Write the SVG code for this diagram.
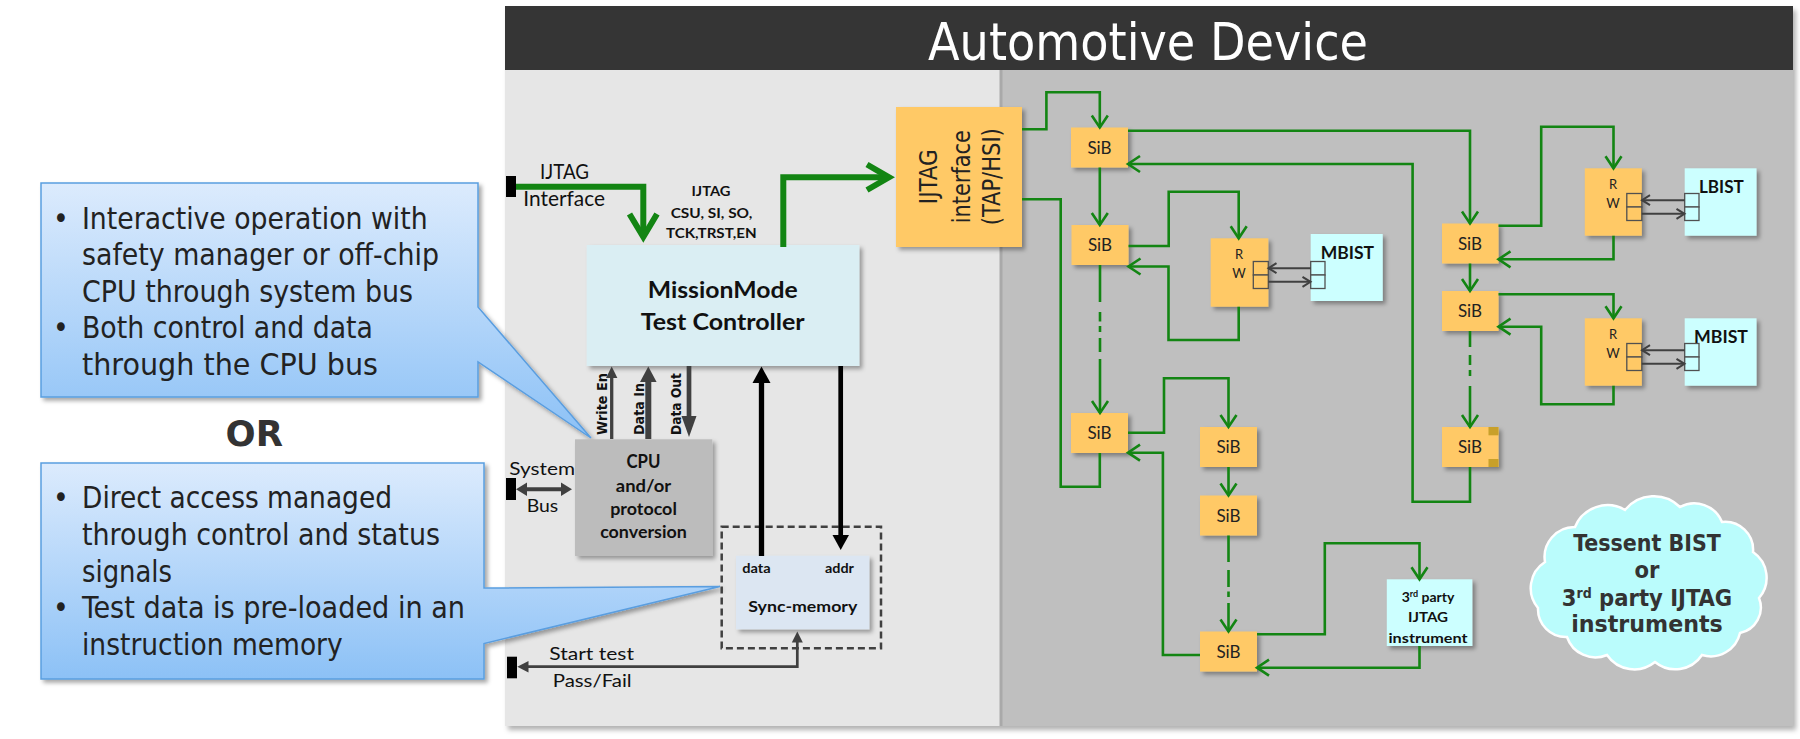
<svg xmlns="http://www.w3.org/2000/svg" width="1800" height="739" viewBox="0 0 1800 739">
<defs>
<style>
.t{font-family:'DejaVu Sans Condensed','DejaVu Sans',sans-serif;font-stretch:condensed}
.c{font-family:Lato,'Liberation Sans',sans-serif}
.b{font-weight:bold}
.g{stroke:#138513;stroke-width:2.6;fill:none}
.ga{marker-end:url(#ga)}
.k{stroke:#404040;stroke-width:2;fill:none;marker-end:url(#ka)}
.sib{fill:#ffc966;filter:url(#sh)}
.inst{fill:#ccffff;filter:url(#sh)}
.reg{stroke:#505050;stroke-width:1.3}
.sibt{font-family:Lato,'Liberation Sans',sans-serif;font-size:17px;fill:#222;text-anchor:middle}
.rw{font-family:Lato,'Liberation Sans',sans-serif;font-size:13px;fill:#222;text-anchor:middle}
.ct{font-family:'DejaVu Sans Condensed','DejaVu Sans',sans-serif;font-stretch:condensed;font-size:29.7px;fill:#222}
</style>
<filter id="sh" x="-15%" y="-15%" width="140%" height="140%">
<feDropShadow dx="3" dy="3" stdDeviation="2" flood-color="#000" flood-opacity="0.35"/>
</filter>
<filter id="sh2" x="-5%" y="-5%" width="110%" height="110%">
<feDropShadow dx="3" dy="4" stdDeviation="2.5" flood-color="#000" flood-opacity="0.3"/>
</filter>
<linearGradient id="cg" x1="0" y1="0" x2="0" y2="1">
<stop offset="0" stop-color="#dcebfd"/>
<stop offset="1" stop-color="#8cc1f6"/>
</linearGradient>
<marker id="ga" markerWidth="16" markerHeight="18" viewBox="0 0 16 18" refX="13" refY="9" orient="auto" markerUnits="userSpaceOnUse" style="overflow:visible">
<path d="M1,1 L13,9 L1,17" fill="none" stroke="#138513" stroke-width="2.6"/>
</marker>
<marker id="ka" markerWidth="10" markerHeight="12" viewBox="0 0 10 12" refX="9" refY="6" orient="auto" markerUnits="userSpaceOnUse" style="overflow:visible">
<path d="M1,1 L9,6 L1,11" fill="none" stroke="#404040" stroke-width="2"/>
</marker>
</defs>

<rect width="1800" height="739" fill="#ffffff"/>

<!-- device panels -->
<g id="device" filter="url(#sh2)">
<rect x="505" y="70" width="495" height="656" fill="#e6e6e6"/>
<rect x="1000" y="70" width="793" height="656" fill="#bfbfbf"/>
<rect x="505" y="6" width="1288" height="64" fill="#363636"/>
</g>
<line x1="1001" y1="70" x2="1001" y2="726" stroke="#a9a9a9" stroke-width="3"/>
<text class="t" x="1148" y="60" font-size="52" fill="#ffffff" text-anchor="middle" textLength="440" lengthAdjust="spacingAndGlyphs">Automotive Device</text>

<!-- callouts -->
<g id="callout1">
<path d="M41,183 H478 V307 L591,438 L478,362 V397 H41 Z" fill="url(#cg)" stroke="#5a9ee0" stroke-width="1.5" filter="url(#sh)"/>
<text class="ct" x="53" y="228.5">•</text>
<text class="ct" x="82" y="228.5" textLength="345.6" lengthAdjust="spacingAndGlyphs">Interactive operation with</text>
<text class="ct" x="82" y="265" textLength="357" lengthAdjust="spacingAndGlyphs">safety manager or off-chip</text>
<text class="ct" x="82" y="301.5" textLength="331" lengthAdjust="spacingAndGlyphs">CPU through system bus</text>
<text class="ct" x="53" y="338">•</text>
<text class="ct" x="82" y="338" textLength="291" lengthAdjust="spacingAndGlyphs">Both control and data</text>
<text class="ct" x="82" y="374.5" textLength="296" lengthAdjust="spacingAndGlyphs">through the CPU bus</text>
</g>
<text class="t b" x="254.3" y="446" font-size="36" fill="#333" text-anchor="middle" textLength="57.4" lengthAdjust="spacingAndGlyphs">OR</text>
<g id="callout2">
<path d="M41,463 H484 V588 L720,586.5 L484,643.5 V679 H41 Z" fill="url(#cg)" stroke="#5a9ee0" stroke-width="1.5" filter="url(#sh)"/>
<text class="ct" x="53" y="508.3">•</text>
<text class="ct" x="82" y="508.3" textLength="310" lengthAdjust="spacingAndGlyphs">Direct access managed</text>
<text class="ct" x="82" y="545" textLength="358" lengthAdjust="spacingAndGlyphs">through control and status</text>
<text class="ct" x="82" y="581.7" textLength="90" lengthAdjust="spacingAndGlyphs">signals</text>
<text class="ct" x="53" y="618.3">•</text>
<text class="ct" x="82" y="618.3" textLength="383" lengthAdjust="spacingAndGlyphs">Test data is pre-loaded in an</text>
<text class="ct" x="82" y="655" textLength="260.7" lengthAdjust="spacingAndGlyphs">instruction memory</text>
</g>

<!-- left side nodes -->
<g id="mission-mode">
<rect x="586.7" y="245" width="272.6" height="121" fill="#daeef3" filter="url(#sh)"/>
<text class="c b" x="722.7" y="298.3" font-size="22" fill="#111" text-anchor="middle" textLength="150" lengthAdjust="spacingAndGlyphs">MissionMode</text>
<text class="c b" x="722.7" y="330" font-size="22" fill="#111" text-anchor="middle" textLength="164" lengthAdjust="spacingAndGlyphs">Test Controller</text>
</g>
<g id="cpu">
<rect x="575" y="439.3" width="137.3" height="116.7" fill="#bcbcbc" filter="url(#sh)"/>
<text class="c b" x="643.5" y="468.3" font-size="18.5" fill="#111" text-anchor="middle" textLength="34" lengthAdjust="spacingAndGlyphs">CPU</text>
<text class="c b" x="643.5" y="491.7" font-size="16.5" fill="#111" text-anchor="middle" textLength="55.3" lengthAdjust="spacingAndGlyphs">and/or</text>
<text class="c b" x="643.5" y="515" font-size="16.5" fill="#111" text-anchor="middle" textLength="66.7" lengthAdjust="spacingAndGlyphs">protocol</text>
<text class="c b" x="643.5" y="537.7" font-size="16.5" fill="#111" text-anchor="middle" textLength="86.7" lengthAdjust="spacingAndGlyphs">conversion</text>
</g>
<g id="sync-memory">
<rect x="721.7" y="526.7" width="159.3" height="121.6" fill="none" stroke="#404040" stroke-width="2.5" stroke-dasharray="7 4"/>
<rect x="736" y="555.7" width="133.3" height="73.6" fill="#dce6f2" filter="url(#sh)"/>
<text class="c b" x="742.3" y="573.3" font-size="12.5" fill="#111" textLength="28.4" lengthAdjust="spacingAndGlyphs">data</text>
<text class="c b" x="825" y="573.3" font-size="12.5" fill="#111" textLength="29" lengthAdjust="spacingAndGlyphs">addr</text>
<text class="c b" x="802.8" y="611.7" font-size="15.5" fill="#111" text-anchor="middle" textLength="109" lengthAdjust="spacingAndGlyphs">Sync-memory</text>
</g>
<g id="ijtag-interface">
<rect x="896" y="107" width="126" height="140" fill="#ffc966" filter="url(#sh)"/>
<text class="t" transform="translate(937,176.7) rotate(-90)" font-size="24" fill="#222" text-anchor="middle" textLength="55" lengthAdjust="spacingAndGlyphs">IJTAG</text>
<text class="t" transform="translate(970,176.7) rotate(-90)" font-size="24" fill="#222" text-anchor="middle" textLength="93" lengthAdjust="spacingAndGlyphs">interface</text>
<text class="t" transform="translate(1000,176.7) rotate(-90)" font-size="24" fill="#222" text-anchor="middle" textLength="97" lengthAdjust="spacingAndGlyphs">(TAP/HSI)</text>
</g>

<!-- terminals -->
<g id="terminals">
<rect x="506" y="176" width="10" height="21" fill="#000"/>
<rect x="506" y="478" width="10" height="22" fill="#000"/>
<rect x="507" y="656.7" width="10" height="21.6" fill="#000"/>
</g>

<!-- left labels -->
<g id="left-labels" fill="#111">
<text class="c" x="540" y="179" font-size="21" textLength="49" lengthAdjust="spacingAndGlyphs">IJTAG</text>
<text class="c" x="523.3" y="206" font-size="21" textLength="81.7" lengthAdjust="spacingAndGlyphs">Interface</text>
<text class="c b" x="711" y="196" font-size="13" text-anchor="middle" textLength="39" lengthAdjust="spacingAndGlyphs">IJTAG</text>
<text class="c b" x="711.5" y="217.7" font-size="13" text-anchor="middle" textLength="81.7" lengthAdjust="spacingAndGlyphs">CSU, SI, SO,</text>
<text class="c b" x="711.3" y="237.7" font-size="13" text-anchor="middle" textLength="90.7" lengthAdjust="spacingAndGlyphs">TCK,TRST,EN</text>
<text class="c" x="509.3" y="475" font-size="18" textLength="65.7" lengthAdjust="spacingAndGlyphs">System</text>
<text class="c" x="526.7" y="511.7" font-size="18" textLength="31.6" lengthAdjust="spacingAndGlyphs">Bus</text>
<text class="c" x="549.3" y="660" font-size="18" textLength="84.7" lengthAdjust="spacingAndGlyphs">Start test</text>
<text class="c" x="552.7" y="687.3" font-size="18" textLength="79" lengthAdjust="spacingAndGlyphs">Pass/Fail</text>
<text class="t b" transform="translate(607,435) rotate(-90)" font-size="13.5" textLength="62" lengthAdjust="spacingAndGlyphs">Write En</text>
<text class="t b" transform="translate(643.5,435) rotate(-90)" font-size="13.5" textLength="52" lengthAdjust="spacingAndGlyphs">Data In</text>
<text class="t b" transform="translate(680.5,435) rotate(-90)" font-size="13.5" textLength="62" lengthAdjust="spacingAndGlyphs">Data Out</text>
</g>

<!-- right side nodes -->
<g id="sib-1"><rect class="sib" x="1071" y="127.5" width="57" height="40"/><text class="sibt" x="1099.5" y="153.5">SiB</text></g>
<g id="sib-2"><rect class="sib" x="1071.5" y="225" width="57" height="40"/><text class="sibt" x="1100" y="251">SiB</text></g>
<g id="sib-3"><rect class="sib" x="1071" y="413" width="57" height="40"/><text class="sibt" x="1099.5" y="439">SiB</text></g>
<g id="sib-4"><rect class="sib" x="1200" y="427" width="57" height="40"/><text class="sibt" x="1228.5" y="453">SiB</text></g>
<g id="sib-5"><rect class="sib" x="1200" y="495.5" width="57" height="40"/><text class="sibt" x="1228.5" y="521.5">SiB</text></g>
<g id="sib-6"><rect class="sib" x="1200" y="631.5" width="57" height="40"/><text class="sibt" x="1228.5" y="657.5">SiB</text></g>
<g id="sib-7"><rect class="sib" x="1442" y="223.5" width="56.5" height="40"/><text class="sibt" x="1470" y="249.5">SiB</text></g>
<g id="sib-8"><rect class="sib" x="1442" y="291" width="56.5" height="40"/><text class="sibt" x="1470" y="317">SiB</text></g>
<g id="sib-9"><rect class="sib" x="1442" y="427" width="56.5" height="40"/>
<rect x="1488.5" y="427" width="10" height="8.3" fill="#c8a02a"/><rect x="1488.5" y="459" width="10" height="8" fill="#c8a02a"/>
<text class="sibt" x="1470" y="453">SiB</text></g>

<g id="rw-1"><rect class="sib" x="1210.7" y="238.3" width="57.6" height="68.4"/>
<text class="rw" x="1239" y="259.3">R</text><text class="rw" x="1239" y="278.3">W</text>
<rect class="reg" x="1253.3" y="261.5" width="15" height="13.5" fill="#ffc966"/><rect class="reg" x="1253.3" y="275" width="15" height="13.5" fill="#ffc966"/></g>
<g id="rw-2"><rect class="sib" x="1584.8" y="168.3" width="57" height="67.4"/>
<text class="rw" x="1613" y="189.3">R</text><text class="rw" x="1613" y="208.3">W</text>
<rect class="reg" x="1626.8" y="193.5" width="15" height="13.5" fill="#ffc966"/><rect class="reg" x="1626.8" y="207" width="15" height="13.5" fill="#ffc966"/></g>
<g id="rw-3"><rect class="sib" x="1584.8" y="318.3" width="57" height="67.4"/>
<text class="rw" x="1613" y="339.3">R</text><text class="rw" x="1613" y="358.3">W</text>
<rect class="reg" x="1626.8" y="343.5" width="15" height="13.5" fill="#ffc966"/><rect class="reg" x="1626.8" y="357" width="15" height="13.5" fill="#ffc966"/></g>

<g id="mbist-1"><rect class="inst" x="1310.7" y="234" width="72" height="67"/>
<text class="c b" x="1320.7" y="259.3" font-size="16.5" fill="#111" textLength="53.3" lengthAdjust="spacingAndGlyphs">MBIST</text>
<rect class="reg" x="1310.7" y="261.5" width="14.3" height="13.5" fill="#ccffff"/><rect class="reg" x="1310.7" y="275" width="14.3" height="13.5" fill="#ccffff"/></g>
<g id="lbist"><rect class="inst" x="1684.7" y="168.3" width="71.8" height="67.4"/>
<text class="c b" x="1699" y="193.3" font-size="16.5" fill="#111" textLength="44.8" lengthAdjust="spacingAndGlyphs">LBIST</text>
<rect class="reg" x="1684.7" y="193.5" width="14.3" height="13.5" fill="#ccffff"/><rect class="reg" x="1684.7" y="207" width="14.3" height="13.5" fill="#ccffff"/></g>
<g id="mbist-2"><rect class="inst" x="1684.7" y="318.3" width="71.8" height="67.4"/>
<text class="c b" x="1694" y="343.3" font-size="16.5" fill="#111" textLength="54" lengthAdjust="spacingAndGlyphs">MBIST</text>
<rect class="reg" x="1684.7" y="343.5" width="14.3" height="13.5" fill="#ccffff"/><rect class="reg" x="1684.7" y="357" width="14.3" height="13.5" fill="#ccffff"/></g>
<g id="third-party"><rect class="inst" x="1386.8" y="579.3" width="85.5" height="66.7"/>
<text class="c b" x="1428" y="601.7" font-size="14" fill="#111" text-anchor="middle">3<tspan dy="-5" font-size="9">rd</tspan><tspan dy="5"> party</tspan></text>
<text class="c b" x="1428" y="622.3" font-size="14" fill="#111" text-anchor="middle" textLength="40" lengthAdjust="spacingAndGlyphs">IJTAG</text>
<text class="c b" x="1428" y="642.7" font-size="14" fill="#111" text-anchor="middle" textLength="79" lengthAdjust="spacingAndGlyphs">instrument</text></g>

<g id="cloud">
<path d="M1545,562 A30,30 0 0 1 1575,527 A35,35 0 0 1 1625,510 A37,37 0 0 1 1680,507 A30,30 0 0 1 1722,522 A28,28 0 0 1 1753,552 A31,31 0 0 1 1759,598 A26,26 0 0 1 1740,633 A30,30 0 0 1 1702,655 A32,32 0 0 1 1655,662 A33,33 0 0 1 1607,655 A30,30 0 0 1 1567,637 A28,28 0 0 1 1538,608 A31,31 0 0 1 1545,562 Z" fill="#bafcfc" stroke="#ffffff" stroke-width="2.5"/>
<text class="t b" x="1647" y="550.7" font-size="23.5" fill="#333" text-anchor="middle" textLength="147.7" lengthAdjust="spacingAndGlyphs">Tessent BIST</text>
<text class="t b" x="1647" y="578.3" font-size="23.5" fill="#333" text-anchor="middle">or</text>
<text class="t b" x="1647" y="606" font-size="23.5" fill="#333" text-anchor="middle">3<tspan dy="-8" font-size="14">rd</tspan><tspan dy="8"> party IJTAG</tspan></text>
<text class="t b" x="1647" y="631.7" font-size="23.5" fill="#333" text-anchor="middle" textLength="151.6" lengthAdjust="spacingAndGlyphs">instruments</text>
</g>

<!-- connectors -->
<g id="connectors">
<!-- thick green IJTAG -->
<path d="M516,186.7 H643.3 V236" stroke="#138513" stroke-width="6" fill="none"/>
<path d="M629.5,214 L643.3,237 L657,214" stroke="#138513" stroke-width="6" fill="none"/>
<path d="M783.3,247 V177.3 H886" stroke="#138513" stroke-width="6" fill="none"/>
<path d="M867,164.5 L889,177.3 L867,190" stroke="#138513" stroke-width="6" fill="none"/>

<!-- CPU / controller arrows -->
<line x1="611.7" y1="439" x2="611.7" y2="376" stroke="#404040" stroke-width="3.3"/>
<polygon points="606,378 611.7,366.5 617.4,378" fill="#404040"/>
<line x1="648.3" y1="439" x2="648.3" y2="380" stroke="#404040" stroke-width="6"/>
<polygon points="640,382 648.3,366.5 656.6,382" fill="#404040"/>
<line x1="689" y1="366" x2="689" y2="418" stroke="#404040" stroke-width="4.7"/>
<polygon points="681.5,416 689,437 696.5,416" fill="#404040"/>
<line x1="761.5" y1="556" x2="761.5" y2="380" stroke="#000" stroke-width="5.3"/>
<polygon points="752.5,383 761.5,366.5 770.5,383" fill="#000"/>
<line x1="840.7" y1="366" x2="840.7" y2="537" stroke="#000" stroke-width="4.7"/>
<polygon points="832.5,535 840.7,550 849,535" fill="#000"/>
<!-- system bus -->
<line x1="524" y1="489.3" x2="564" y2="489.3" stroke="#404040" stroke-width="4"/>
<polygon points="516,489.3 527,482.5 527,496" fill="#404040"/>
<polygon points="572,489.3 561,482.5 561,496" fill="#404040"/>
<!-- start test / pass fail -->
<path d="M797.3,641 V666.7 H527" stroke="#404040" stroke-width="2.7" fill="none"/>
<polygon points="517.3,666.7 528.5,661 528.5,672.4" fill="#404040"/>
<polygon points="797.3,631.5 791.8,642.5 802.8,642.5" fill="#404040"/>

<!-- green scan network -->
<path class="g ga" d="M1022,129.3 H1046.4 V92.3 H1099.8 V127.5"/>
<path class="g ga" d="M1128,130.7 H1470 V223.5"/>
<path class="g ga" d="M1470,467 V501.7 H1412.6 V164 H1128"/>
<path class="g ga" d="M1099.8,167.5 V225"/>
<path class="g ga" d="M1128.5,246 H1168.7 V191.7 H1238.7 V238.3"/>
<path class="g ga" d="M1238.7,306.7 V340 H1168.5 V266.5 H1128.5"/>
<path class="g" d="M1100,265 V302 M1100,312 V321.5 M1100,326 V332 M1100,338 V352"/>
<path class="g ga" d="M1100,359 V413"/>
<path class="g ga" d="M1128,432.7 H1164 V378.3 H1228.5 V427"/>
<path class="g ga" d="M1228.5,467 V495.5"/>
<path class="g" d="M1228.5,535.5 V562 M1228.5,570 V587 M1228.5,591.5 V597"/>
<path class="g ga" d="M1228.5,603 V631.5"/>
<path class="g ga" d="M1257,634.3 H1324.8 V543.3 H1419.5 V579.3"/>
<path class="g ga" d="M1419.5,646 V667.7 H1257"/>
<path class="g ga" d="M1200,655 H1162.9 V452.7 H1128"/>
<path class="g" d="M1099.8,453 V486.7 H1060.7 V199.3 H1022"/>
<path class="g ga" d="M1498.5,225.7 H1541.2 V126.7 H1613.5 V168.3"/>
<path class="g ga" d="M1613.5,235.7 V259.3 H1498.5"/>
<path class="g ga" d="M1470,263.5 V291"/>
<path class="g ga" d="M1498.5,294.3 H1613.5 V318.3"/>
<path class="g ga" d="M1613.5,385.7 V404.3 H1541.2 V326.7 H1498.5"/>
<path class="g" d="M1470,331 V347 M1470,355 V365 M1470,370 V376"/>
<path class="g ga" d="M1470,386 V427"/>

<!-- register arrows -->
<path class="k" d="M1310.7,268.2 H1268.5"/>
<path class="k" d="M1268.3,281.8 H1310.5"/>
<path class="k" d="M1684.7,200.2 H1642"/>
<path class="k" d="M1641.8,213.8 H1684.5"/>
<path class="k" d="M1684.7,350.2 H1642"/>
<path class="k" d="M1641.8,363.8 H1684.5"/>
</g>
</svg>
